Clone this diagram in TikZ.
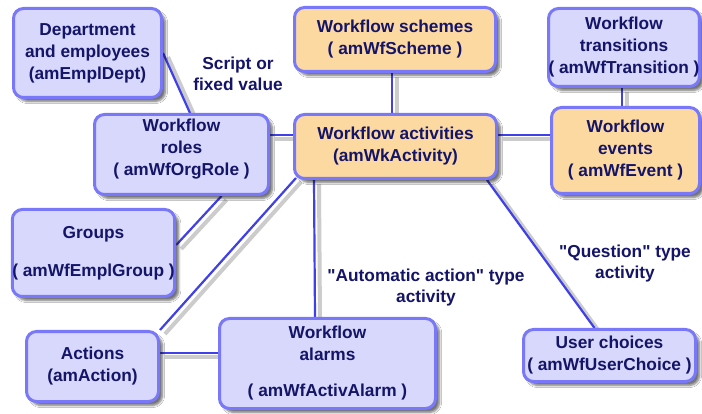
\documentclass[tikz,border=0pt]{standalone}
\usepackage{fontspec}
\setmainfont{Liberation Sans}[Ligatures=TeXOff]
\usetikzlibrary{shadows.blur,backgrounds,calc}
\definecolor{boxfill}{HTML}{D8D8FC}
\definecolor{boxline}{HTML}{7878F8}
\definecolor{orfill}{HTML}{FCD9A0}
\definecolor{conn}{HTML}{4040E8}
\definecolor{txt}{HTML}{141468}
\begin{document}
\begin{tikzpicture}[x=1pt,y=-1pt,
  box/.style={draw=boxline, line width=3pt, fill=boxfill, rounded corners=10pt,
    align=center, text=txt, font=\fontsize{17.3}{22}\selectfont\bfseries, inner sep=0pt,
    blur shadow={shadow xshift=4pt, shadow yshift=-4pt, shadow blur steps=6, shadow opacity=55}},
  obox/.style={box, fill=orfill},
  link/.style={draw=conn, line width=2.2pt},
  linkshadow/.style={draw=black!20, line width=4pt, transform canvas={xshift=5pt,yshift=-4pt}},
  lbl/.style={align=center, text=txt, font=\fontsize{17.3}{21}\selectfont\bfseries, inner sep=0pt}]
\useasboundingbox (0,0) rectangle (702,414);

% boxes
\node[box, minimum width=148pt, minimum height=89pt] (dept) at (87.5,53) {Department\\and employees\\(amEmplDept)};
\node[obox, minimum width=201pt, minimum height=64pt] (schemes) at (395,39.5) {Workflow schemes\\( amWfScheme )};
\node[box, minimum width=149pt, minimum height=78pt] (trans) at (624,47.5) {Workflow\\transitions\\( amWfTransition )};
\node[box, minimum width=174pt, minimum height=80pt] (roles) at (181.5,154.5) {Workflow\\roles\\( amWfOrgRole )\\[-8pt]};
\node[obox, minimum width=202pt, minimum height=64pt] (act) at (395.5,146.5) {Workflow activities\\(amWkActivity)};
\node[obox, minimum width=148pt, minimum height=86pt] (events) at (625.5,150.5) {Workflow\\events\\( amWfEvent )};
\node[box, minimum width=160pt, minimum height=87pt] (groups) at (93.5,253) {Groups\\[16pt]( amWfEmplGroup )};
\node[box, minimum width=132pt, minimum height=70pt] (actions) at (92.5,366.5) {Actions\\(amAction)};
\node[box, minimum width=216pt, minimum height=90pt] (alarms) at (327.5,363.5) {Workflow\\alarms\\[14pt]( amWfActivAlarm )};
\node[box, minimum width=172pt, minimum height=52pt] (user) at (609.5,355.5) {User choices\\( amWfUserChoice )};

% labels
\node[lbl] (script) at (238,74) {Script or\\fixed value};
\node[lbl] (auto) at (426,288) {"Automatic action" type\\activity};
\node[lbl] (quest) at (625,263.5) {"Question" type\\activity};

\begin{pgfonlayer}{background}
\fill[white] (0,0) rectangle (702,414);
% connector coordinates
\coordinate (rA) at ($(roles.east)+(0,-19.5)$);
\coordinate (aA) at ($(act.west)+(0,-11.5)$);
\coordinate (aE) at ($(act.east)+(0,-11.5)$);
\coordinate (eA) at ($(events.west)+(0,-15.5)$);
\coordinate (gR) at ($(groups.east)+(0,-8)$);
\coordinate (rG) at ($(roles.south)+(40,0)$);
\coordinate (rD) at ($(roles.north)+(8.5,0)$);
\coordinate (aV) at ($(act.south west)+(21,0)$);
\coordinate (alV) at ($(alarms.north west)+(97,0)$);
\coordinate (acH) at ($(actions.east)+(0,-13.5)$);
\coordinate (alH) at ($(alarms.west)+(0,-10.5)$);
\coordinate (aU) at ($(act.south)+(91.5,0)$);
\coordinate (uA) at ($(user.north)+(-15,0)$);
\coordinate (aS) at ($(act.south west)+(3,-2)$);
\coordinate (sV) at ($(schemes.south)+(-3,0)$);
\coordinate (aN) at ($(act.north)+(-3.5,0)$);
\coordinate (tV) at ($(trans.south)+(-2,0)$);
\coordinate (eN) at ($(events.north)+(-3.5,0)$);
\foreach \s in {linkshadow, link}{
  \draw[\s] (dept.east) -- (rD);
  \draw[\s] (rA) -- (aA);
  \draw[\s] (sV) -- (aN);
  \draw[\s] (tV) -- (eN);
  \draw[\s] (aE) -- (eA);
  \draw[\s] (gR) -- (rG);
  \draw[\s] (actions.north east) -- (aS);
  \draw[\s] (aV) -- (alV);
  \draw[\s] (acH) -- (alH);
  \draw[\s] (aU) -- (uA);
}
\end{pgfonlayer}
\end{tikzpicture}
\end{document}
